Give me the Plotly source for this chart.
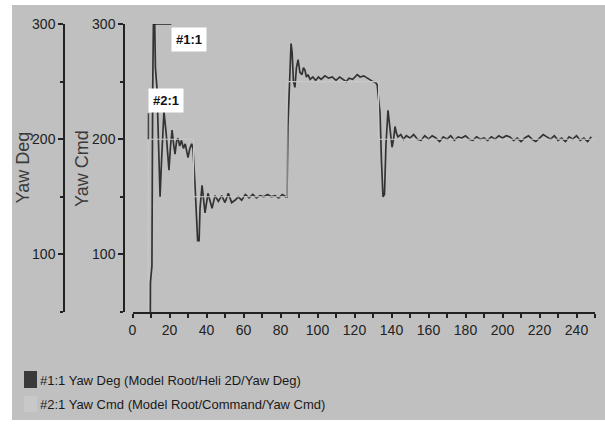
import plotly.graph_objects as go

# ---- data ----
cmd_t = [0, 8.5, 33, 83.5, 133, 250]
cmd_v = [0, 200, 150, 250, 200, 200]

deg_t = [0, 9.5, 9.7, 10.5, 10.9, 11.3, 12.0, 12.4, 13.2, 14.0, 14.9, 15.8, 17.0, 18.2, 19.7,
         20.6, 21.4, 22.2, 23.0, 23.8, 24.6, 25.5, 26.5, 27.5, 28.5, 30.0, 31.0, 32.0, 32.7,
         33.8, 34.5, 35.2, 36.0, 36.5, 37.6, 39.2, 40.8, 43.0, 44.6, 46.4, 48.2, 50.0, 51.8,
         53.6, 55.4, 57.2, 59.0, 61, 63, 65, 67, 69, 71, 73, 75, 77, 79, 81, 82.8, 83.5,
         84.0, 85.0, 85.7, 86.3, 87.0, 87.8, 88.6, 89.5, 90.5, 91.6, 92.4, 93.2, 94.0, 94.9,
         96, 97.5, 99, 100.5, 102, 104, 106, 108, 110, 112, 114, 115.6, 117, 119, 121.5, 123,
         125, 127, 128.5, 130, 131.5, 132.3,
         132.7, 133.8, 134.6, 135.4, 136.2, 137, 138.1, 139.0, 140.3, 141.1, 141.9, 142.7, 143.5,
         145, 146.5, 148, 150, 152, 154, 156, 158, 160, 162, 164, 166, 168, 170, 172, 174, 176,
         178, 180, 182, 184, 186, 188, 190, 192, 194, 196, 198, 200, 202, 204, 206, 208, 210,
         212, 214, 216, 218, 220, 222, 224, 226, 228, 230, 232, 234, 236, 238, 240, 242, 244,
         246, 248, 250]
deg_v = [0, 0, 76, 90, 240, 300, 300, 262, 245, 200, 150, 185, 224, 205, 173,
         195, 208, 196, 187, 198, 201, 194, 199, 192, 196, 184, 192, 196, 192,
         160, 138, 112, 112, 140, 160, 136, 153, 140, 151, 146, 151, 145, 153,
         145, 147, 150, 147, 152, 149, 152, 149, 151, 150, 152, 150, 151, 149, 152, 150, 150,
         211, 255, 283, 275, 250, 245, 262, 269, 258, 256, 262, 260, 254, 256,
         252, 254, 251, 254, 252, 255, 253, 254, 251, 254, 252, 250, 253, 252, 256, 254,
         255, 253, 251, 250, 249, 247,
         240, 223, 180, 150, 152, 195, 225, 210, 193, 200, 211, 205, 202,
         204, 200, 203, 201, 204, 200, 199, 203, 200, 203, 201, 198, 202, 200, 203, 199,
         202, 201, 203, 200, 199, 202, 200, 201, 199, 202, 200, 203, 201, 203, 202, 199, 201,
         198, 201, 203, 200, 198, 201, 204, 202, 200, 203, 199, 201, 198, 202, 200, 203, 199,
         201, 198, 202]

y_ticks = [100, 200, 300]
y_minor = [50, 150, 250]
x_ticks = list(range(0, 251, 10))
x_text = [str(v) if v % 20 == 0 and v <= 240 else "" for v in x_ticks]

legend_labels = ["#1:1 Yaw Deg (Model Root/Heli 2D/Yaw Deg)",
                 "#2:1 Yaw Cmd (Model Root/Command/Yaw Cmd)"]
series_colors = ["#333333", "#c9c9c9"]

W, H = 605, 424
BG = "#c0c0c0"
FONT = "Liberation Sans, Arial"
def px(x): return x / W
def py(y): return (H - y) / H

fig = go.Figure()
fig.add_trace(go.Scatter(x=cmd_t, y=cmd_v, mode="lines", line=dict(color=series_colors[1], width=1.1, shape="hv"),
                         yaxis="y2", showlegend=False))
fig.add_trace(go.Scatter(x=deg_t, y=deg_v, mode="lines", line=dict(color=series_colors[0], width=1.7),
                         yaxis="y", showlegend=False))

axis_common = dict(range=[50, 300], tickvals=y_ticks, ticks="outside", ticklen=5, tickwidth=1.5,
                   tickcolor="#222", showline=True, linecolor="#222", linewidth=1.5,
                   showgrid=False, zeroline=False, domain=[py(312), py(24)], automargin=False,
                   tickfont=dict(family=FONT, size=14, color="#222"),
                   minor=dict(tickvals=y_minor, ticks="outside", ticklen=3, tickcolor="#222", tickwidth=1.5))

fig.update_layout(
    template="none",
    width=W, height=H, margin=dict(l=0, r=0, t=0, b=0, pad=0),
    paper_bgcolor="white", plot_bgcolor=BG, showlegend=False,
    xaxis=dict(domain=[px(132.5), px(595)], range=[0, 250], tickvals=x_ticks, ticktext=x_text,
               ticks="outside", ticklen=4, tickwidth=1.5, tickcolor="#222", showline=True,
               linecolor="#222", linewidth=1.5, showgrid=False, zeroline=False, anchor="y",
               automargin=False, tickfont=dict(family=FONT, size=14, color="#222")),
    yaxis=dict(anchor="free", position=px(64), **axis_common),
    yaxis2=dict(anchor="free", position=px(124), overlaying="y", **axis_common),
    shapes=[
        dict(type="rect", xref="paper", yref="paper", x0=px(12), x1=1, y0=py(420), y1=py(5),
             fillcolor=BG, line=dict(width=0), layer="below"),
        dict(type="rect", xref="paper", yref="paper", x0=px(24), x1=px(37), y0=py(388), y1=py(371),
             fillcolor="#3a3a3a", line=dict(width=0)),
        dict(type="rect", xref="paper", yref="paper", x0=px(24), x1=px(37), y0=py(412), y1=py(396),
             fillcolor="#c8c8c8", line=dict(width=0)),
        # marker pointer lines
        dict(type="line", xref="x", yref="y", x0=11.3, x1=21, y0=300, y1=300,
             line=dict(color="#222", width=1.5)),
        dict(type="line", xref="x", yref="y", x0=8.6, x1=8.6, y0=200, y1=222.5,
             line=dict(color="#444", width=1.5)),
    ],
    annotations=[
        dict(text="Yaw Deg", xref="paper", yref="paper", x=px(22.5), y=py(168), textangle=-90,
             xanchor="center", yanchor="middle",
             showarrow=False, font=dict(family=FONT, size=18, color="#3a3a3a")),
        dict(text="Yaw Cmd", xref="paper", yref="paper", x=px(82), y=py(168), textangle=-90,
             xanchor="center", yanchor="middle",
             showarrow=False, font=dict(family=FONT, size=18, color="#3a3a3a")),
        dict(text=legend_labels[0], xref="paper", yref="paper", x=px(38), y=py(380), xanchor="left",
             yanchor="middle", showarrow=False, font=dict(family=FONT, size=13, color="#1a1a1a")),
        dict(text=legend_labels[1], xref="paper", yref="paper", x=px(38), y=py(404), xanchor="left",
             yanchor="middle", showarrow=False, font=dict(family=FONT, size=13, color="#1a1a1a")),
        dict(text="<b>#1:1</b>", xref="x", yref="y", x=20.8, y=297.5, xanchor="left", yanchor="top",
             showarrow=False, bgcolor="white", borderpad=4,
             font=dict(family=FONT, size=13, color="#111")),
        dict(text="<b>#2:1</b>", xref="x", yref="y", x=8.2, y=222.5, xanchor="left", yanchor="bottom",
             showarrow=False, bgcolor="white", borderpad=4,
             font=dict(family=FONT, size=13, color="#111")),
    ],
)

fig.write_html("out.html")
